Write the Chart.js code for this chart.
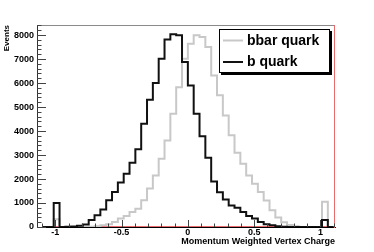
<!DOCTYPE html>
<html>
<head>
<meta charset="utf-8">
<script src="https://cdn.jsdelivr.net/npm/chart.js@4.4.1/dist/chart.umd.min.js"></script>
<style>
  html, body { margin: 0; padding: 0; background: #fff; }
  #wrap { position: relative; width: 374px; height: 252px; }
</style>
</head>
<body>
<div id="wrap"><canvas id="chart" width="374" height="252"></canvas></div>
<script>
// ── VERTEX CHARGE: b vs bbar ─────────────────────────────────────────────────

// 50 bins of 0.044 starting at -1.1
var binLow = -1.1;
var binWidth = 0.044;

var seriesNames = ['bbar quark', 'b quark'];

var bQuark = [
  0, 0, 1000, 0, 10, 20, 50, 100, 290, 490,
  730, 1110, 1460, 1850, 2220, 2680, 3240, 4300, 5300, 6000,
  7015, 7820, 8030, 7990, 6880, 5900, 4725, 3780, 2890, 1900,
  1450, 1150, 900, 800, 625, 460, 350, 210, 110, 70,
  30, 10, 0, 0, 0, 0, 0, 0, 290, 0
];

var bbarQuark = [
  0, 0, 320, 0, 0, 0, 0, 0, 10, 30,
  70, 110, 210, 350, 460, 625, 760, 1110, 1600, 2150,
  2850, 3610, 4725, 5830, 7015, 7640, 7990, 7920, 7500, 6320,
  5490, 4650, 3820, 3100, 2640, 2150, 1800, 1460, 1100, 700,
  400, 200, 80, 30, 0, 0, 0, 0, 1050, 0
];

// empty third histogram, only shows where the others lift off zero
var zeroHist = [
  0, 0, 0, 0, 0, 0, 0, 0, 0, 0,
  0, 0, 0, 0, 0, 0, 0, 0, 0, 0,
  0, 0, 0, 0, 0, 0, 0, 0, 0, 0,
  0, 0, 0, 0, 0, 0, 0, 0, 0, 0,
  0, 0, 0, 0, 0, 0, 0, 0, 0, 0
];

var xTicks = [-1, -0.5, 0, 0.5, 1];
var yTicks = [0, 1000, 2000, 3000, 4000, 5000, 6000, 7000, 8000];

var FONT = 'Liberation Sans, Arial, Helvetica, sans-serif';

// step outline: one point per left edge, plus the last right edge
function histPoints(counts) {
  var pts = [];
  for (var i = 0; i < counts.length; i++) {
    pts.push({ x: binLow + i * binWidth, y: counts[i] });
  }
  pts.push({ x: binLow + counts.length * binWidth, y: counts[counts.length - 1] });
  return pts;
}

// inward ticks, frame and the boxed legend (ROOT look)
var rootFrame = {
  id: 'rootFrame',
  afterDatasetsDraw: function(chart) {
    var ctx = chart.ctx;
    var a = chart.chartArea;
    var xs = chart.scales.x, ys = chart.scales.y;
    ctx.save();

    ctx.lineWidth = 1;
    ctx.strokeStyle = '#8a8a8a';
    ctx.beginPath();
    ctx.moveTo(a.left, a.top + 0.5);
    ctx.lineTo(a.right, a.top + 0.5);
    ctx.stroke();

    ctx.strokeStyle = '#e86a6a';
    ctx.beginPath();
    ctx.moveTo(a.right - 0.5, a.top);
    ctx.lineTo(a.right - 0.5, a.bottom + 1);
    ctx.stroke();

    // y ticks: major every label, minor every 200
    ctx.strokeStyle = '#444';
    ctx.beginPath();
    for (var v = 0; v <= ys.max; v += 200) {
      var py = Math.round(ys.getPixelForValue(v)) + 0.5;
      var len = yTicks.indexOf(v) >= 0 ? 9 : 4.5;
      ctx.moveTo(a.left, py);
      ctx.lineTo(a.left + len, py);
    }
    // x ticks: major at labels, minor every 0.1
    for (var k = -11; k <= 11; k++) {
      var xv = k / 10;
      var px = Math.round(xs.getPixelForValue(xv)) + 0.5;
      var major = xTicks.indexOf(xv) >= 0;
      ctx.moveTo(px, a.bottom);
      ctx.lineTo(px, a.bottom - (major ? 7 : 3.5));
    }
    ctx.stroke();
    ctx.restore();
  },
  afterDraw: function(chart) {
    var ctx = chart.ctx;
    ctx.save();
    // legend box with shadow
    ctx.fillStyle = '#000';
    ctx.fillRect(221, 31, 111, 44);
    ctx.fillStyle = '#fff';
    ctx.fillRect(219.5, 29.5, 110, 43);
    ctx.strokeStyle = '#000';
    ctx.lineWidth = 1;
    ctx.strokeRect(219.5, 29.5, 110, 43);

    var ds = chart.data.datasets;
    var rows = [{ label: seriesNames[0], color: ds[1].borderColor, y: 40.5 },
                { label: seriesNames[1], color: ds[0].borderColor, y: 62 }];
    ctx.font = 'bold 14px ' + FONT;
    ctx.textBaseline = 'middle';
    ctx.textAlign = 'left';
    rows.forEach(function(r) {
      ctx.strokeStyle = r.color;
      ctx.lineWidth = 2;
      ctx.beginPath();
      ctx.moveTo(223, r.y);
      ctx.lineTo(243, r.y);
      ctx.stroke();
      ctx.fillStyle = '#000';
      ctx.fillText(r.label, 247, r.y + 0.5);
    });
    ctx.restore();
  }
};

new Chart(document.getElementById('chart'), {
  type: 'line',
  data: {
    datasets: [
      {
        label: seriesNames[1],
        data: histPoints(bQuark),
        borderColor: '#111',
        borderWidth: 2,
        pointRadius: 0,
        stepped: true,
        fill: false,
        order: 0
      },
      {
        label: seriesNames[0],
        data: histPoints(bbarQuark),
        borderColor: '#c8c8c8',
        borderWidth: 2,
        pointRadius: 0,
        stepped: true,
        fill: false,
        order: 1
      },
      {
        label: 'zero',
        data: histPoints(zeroHist),
        borderColor: '#e86a6a',
        borderWidth: 2,
        pointRadius: 0,
        stepped: true,
        fill: false,
        order: 2
      }
    ]
  },
  options: {
    responsive: false,
    animation: false,
    layout: { padding: { top: 25, right: 39, left: 0, bottom: 0 } },
    plugins: {
      legend: { display: false },
      tooltip: { enabled: false }
    },
    scales: {
      x: {
        type: 'linear',
        min: -1.138,
        max: 1.110,
        afterBuildTicks: function(s) {
          s.ticks = xTicks.map(function(v) { return { value: v }; });
        },
        afterFit: function(s) { s.height = 25; },
        grid: { display: false, drawTicks: false },
        border: { display: true, color: '#000', width: 1 },
        ticks: {
          color: '#000',
          font: { family: FONT, size: 9, weight: 'bold' },
          padding: 0,
          maxRotation: 0,
          autoSkip: false,
          callback: function(v) { return String(v); }
        },
        title: {
          display: true,
          text: 'Momentum Weighted Vertex Charge',
          align: 'end',
          color: '#000',
          font: { family: FONT, size: 9, weight: 'bold' },
          padding: { top: 0, bottom: 5 }
        }
      },
      y: {
        min: 0,
        max: 8420,
        afterBuildTicks: function(s) {
          s.ticks = yTicks.map(function(v) { return { value: v }; });
        },
        afterFit: function(s) { s.width = 37; },
        grid: { display: false, drawTicks: false },
        border: { display: true, color: '#333', width: 1 },
        ticks: {
          color: '#000',
          font: { family: FONT, size: 9, weight: 'bold' },
          padding: 3,
          callback: function(v) { return String(v); }
        },
        title: {
          display: true,
          text: 'Events',
          align: 'end',
          color: '#000',
          font: { family: FONT, size: 8, weight: 'bold' },
          padding: { top: 2, bottom: 0 }
        }
      }
    }
  },
  plugins: [rootFrame]
});
</script>
</body>
</html>
